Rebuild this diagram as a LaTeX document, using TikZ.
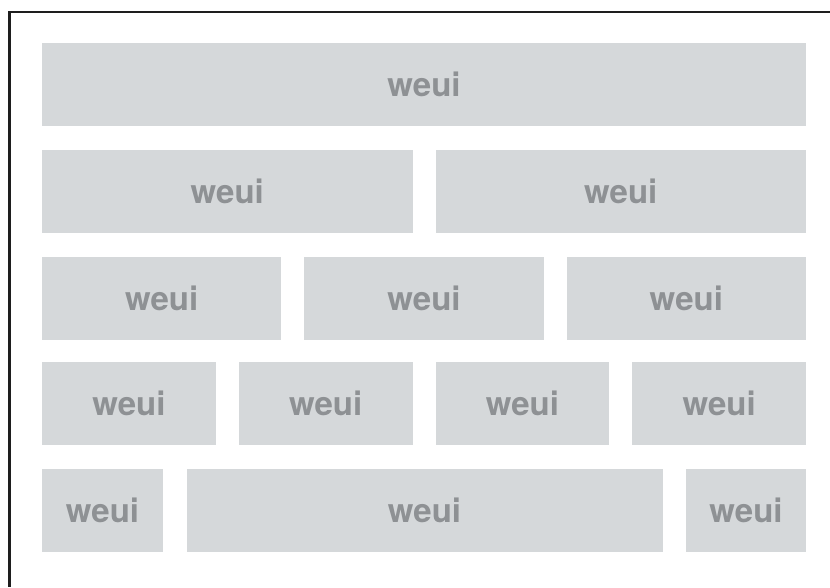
\documentclass[tikz,border=0pt]{standalone}
\usepackage{fontspec}
\setmainfont{TeX Gyre Heros}
\usetikzlibrary{positioning}
\definecolor{cellgray}{HTML}{D5D8DA}
\definecolor{labelgray}{HTML}{8E9194}
\definecolor{framegray}{HTML}{1E1E1E}

\begin{document}
\begin{tikzpicture}[x=1pt, y=-1pt,
  cell/.style={fill=cellgray, minimum height=83pt, inner sep=0pt, text=labelgray,
               font=\fontsize{33}{36}\selectfont\bfseries}]
  \useasboundingbox (0,0) rectangle (830,587);
  % --- frame, cut off at right and bottom ---
  \coordinate (fr) at (830,12);
  \coordinate (fc) at (9.5,12);
  \coordinate (fb) at (9.5,587);
  \draw[line width=2.6pt, framegray] (fr) -- (fc) -- (fb);
  % --- row 1 ---
  \node[cell, minimum width=764pt] (a0) at (424,84) {weui};
  % --- row 2 ---
  \foreach \i/\cx in {0/227.25, 1/620.75}{
    \node[cell, minimum width=370.5pt] (b\i) at (\cx,191.5) {weui};
  }
  % --- row 3 ---
  \foreach \i/\cx in {0/161.67, 1/424, 2/686.33}{
    \node[cell, minimum width=239.33pt] (c\i) at (\cx,298) {weui};
  }
  % --- row 4 ---
  \foreach \i/\cx in {0/128.88, 1/325.63, 2/522.38, 3/719.13}{
    \node[cell, minimum width=173.75pt] (d\i) at (\cx,403.5) {weui};
  }
  % --- row 5 ---
  \foreach \i/\cx/\w in {0/102.5/121, 1/424.5/476, 2/746/120}{
    \node[cell, minimum width=\w pt] (e\i) at (\cx,510) {weui};
  }
\end{tikzpicture}
\end{document}
